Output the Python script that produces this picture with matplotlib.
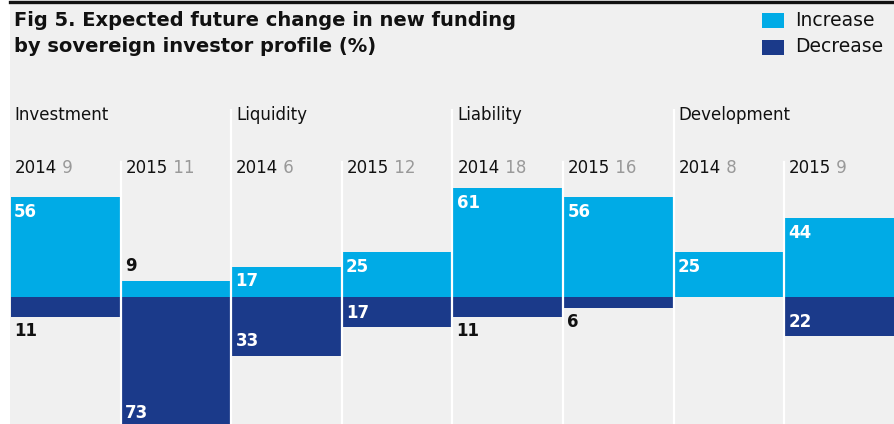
import matplotlib.pyplot as plt
from matplotlib.lines import Line2D
from matplotlib.patches import Rectangle

# data
groups = ['Investment', 'Liquidity', 'Liability', 'Development']
years = ['2014', '2015', '2014', '2015', '2014', '2015', '2014', '2015']
respondents = [9, 11, 6, 12, 18, 16, 8, 9]
increase = [56, 9, 17, 25, 61, 56, 25, 44]
decrease = [11, 73, 33, 17, 11, 6, 0, 22]

c_inc = '#00abe6'
c_dec = '#1b3a8a'
bg = '#f0f0f0'
W, H = 895, 424

fig = plt.figure(figsize=(W / 100, H / 100), dpi=100)
fig.patch.set_facecolor('white')
fig.add_artist(Rectangle((10 / W, 0), 1 - 10 / W, 1, transform=fig.transFigure,
                         facecolor=bg, edgecolor='none', zorder=0))
fig.add_artist(Line2D([10 / W, 1], [1 - 1.5 / H, 1 - 1.5 / H], transform=fig.transFigure,
                      color='#111111', lw=2.4))

font = 'DejaVu Sans'
fig.text(14 / W, 1 - 21 / H, 'Fig 5. Expected future change in new funding',
         fontsize=14, fontweight='bold', family=font, va='center', color='#111111')
fig.text(14 / W, 1 - 47 / H, 'by sovereign investor profile (%)',
         fontsize=14, fontweight='bold', family=font, va='center', color='#111111')

# legend
for yy, col, lab in [(20, c_inc, 'Increase'), (47, c_dec, 'Decrease')]:
    fig.add_artist(Rectangle((762 / W, 1 - (yy + 7.5) / H), 22 / W, 15 / H,
                             transform=fig.transFigure, facecolor=col, edgecolor='none'))
    fig.text(795 / W, 1 - yy / H, lab, fontsize=13.5, family=font, va='center', color='#111111')

# bar area: zero line at pixel 297, ~1.786 px per percentage point
ppu = 1.786
top_px, zero_px = 109, 297
ax = fig.add_axes([10 / W, 0, 1 - 10 / W, (H - top_px) / H])
ax.set_facecolor('none')
ax.set_xlim(-0.5, len(years) - 0.5)
ax.set_ylim(-(H - zero_px) / ppu, (zero_px - top_px) / ppu)
ax.axis('off')

x = list(range(len(years)))
ax.bar(x, increase, width=0.99, color=c_inc, zorder=2)
ax.bar(x, [-d for d in decrease], width=0.99, color=c_dec, zorder=2)

# separators
ylo, yhi = ax.get_ylim()
sub_top = (zero_px - 162) / ppu
for i in range(len(years) - 1):
    ytop = yhi if i % 2 == 1 else sub_top
    ax.plot([i + 0.5, i + 0.5], [ylo, ytop], color='white', lw=1.6, zorder=3)

lab_fs = 12
for g, name in enumerate(groups):
    ax.annotate(name, (2 * g - 0.5, (zero_px - 115) / ppu), xytext=(3.5, 0),
                textcoords='offset points', fontsize=lab_fs, family=font,
                va='center', color='#111111')

for i, (yr, n) in enumerate(zip(years, respondents)):
    t = ax.annotate(yr, (i - 0.5, (zero_px - 168) / ppu), xytext=(3.5, 0),
                    textcoords='offset points', fontsize=lab_fs, family=font,
                    va='center', color='#111111')
    ax.annotate(' ' + str(n), (1, 0.5), xycoords=t, va='center', ha='left',
                fontsize=lab_fs, family=font, color='#999999')

# value labels
off = 10.5
kw = dict(textcoords='offset points', fontsize=12, fontweight='bold', family=font,
          va='center', annotation_clip=False, zorder=4)
for i in x:
    v = increase[i]
    if v >= 15:
        ax.annotate(str(v), (i - 0.5, v), xytext=(3, -off), color='white', **kw)
    elif v > 0:
        ax.annotate(str(v), (i - 0.5, v), xytext=(3, off), color='#111111', **kw)
    d = decrease[i]
    if d >= 15:
        ax.annotate(str(d), (i - 0.5, -d), xytext=(3, off), color='white', **kw)
    elif d > 0:
        ax.annotate(str(d), (i - 0.5, -d), xytext=(3, -off), color='#111111', **kw)

fig.savefig('out.png', dpi=100, facecolor=fig.get_facecolor())
